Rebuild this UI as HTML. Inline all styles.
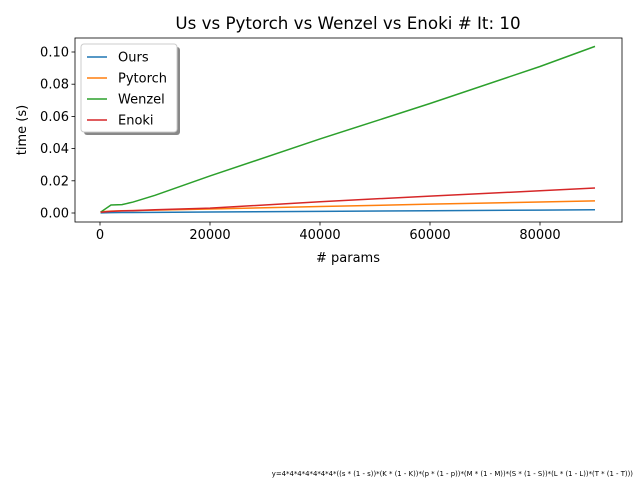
<!DOCTYPE html>
<html><head><meta charset="utf-8"><style>
body{margin:0;background:#fff;}
svg{display:block;font-family:"DejaVu Sans","Liberation Sans",sans-serif;}
</style></head><body>
<svg id="chart" width="640" height="480" viewBox="0 0 640 480">
<rect width="640" height="480" fill="#fff"/>
<text x="348" y="29" font-size="16.7" text-anchor="middle">Us vs Pytorch vs Wenzel vs Enoki # It: 10</text>
<g id="plot"></g>
<text x="348" y="262" font-size="13" text-anchor="middle"># params</text>
<text transform="translate(26,130) rotate(-90)" font-size="13" text-anchor="middle">time (s)</text>
<text x="633" y="476" font-size="6.9" text-anchor="end">y=4*4*4*4*4*4*4*((s * (1 - s))*(K * (1 - K))*(p * (1 - p))*(M * (1 - M))*(S * (1 - S))*(L * (1 - L))*(T * (1 - T)))</text>
</svg>
<script>
const xs=[100,2000,4000,6000,10000,20000,40000,60000,80000,90000];
const ours=[0.0001,0.0002,0.0003,0.0003,0.0004,0.0006,0.001,0.0014,0.0018,0.002];
const pytorch=[0.0008,0.0012,0.0014,0.0015,0.0018,0.0025,0.004,0.0055,0.0068,0.0075];
const wenzel=[0.0005,0.005,0.0052,0.0068,0.011,0.023,0.046,0.068,0.091,0.1035];
const enoki=[0.0005,0.001,0.0013,0.0015,0.002,0.003,0.007,0.0105,0.0138,0.0155];
const xTicks=[0,20000,40000,60000,80000];
const yTicks=[0,0.02,0.04,0.06,0.08,0.10];
const yTickLabels=["0.00","0.02","0.04","0.06","0.08","0.10"];
const seriesNames=["Ours","Pytorch","Wenzel","Enoki"];
const seriesColors=["#1f77b4","#ff7f0e","#2ca02c","#d62728"];

const L=75,R=622,T=38,B=222;
const sx=v=>100+v*0.0055;
const sy=v=>213-v*1610;
const ns="http://www.w3.org/2000/svg";
const g=document.getElementById('plot');
function mk(t,a){const e=document.createElementNS(ns,t);for(const k in a)e.setAttribute(k,a[k]);g.appendChild(e);return e;}
[ours,pytorch,wenzel,enoki].forEach((s,i)=>{
 const p=mk('polyline',{points:s.map((v,j)=>sx(xs[j])+','+sy(v)).join(' '),fill:'none',stroke:seriesColors[i],'stroke-width':1.5});
 
 
});
const fr=mk('rect',{x:L,y:T,width:R-L,height:B-T,fill:'none',stroke:'#000','stroke-width':0.8});


xTicks.forEach(v=>{
 mk('line',{x1:sx(v),x2:sx(v),y1:B,y2:B+3.5,stroke:'#000','stroke-width':0.8});
 const t=mk('text',{x:sx(v),y:B+17,'font-size':13,'text-anchor':'middle'});t.textContent=String(v);
 
 
});
yTicks.forEach((v,i)=>{
 mk('line',{x1:L-3.5,x2:L,y1:sy(v),y2:sy(v),stroke:'#000','stroke-width':0.8});
 const t=mk('text',{x:L-6,y:sy(v)+4.5,'font-size':13,'text-anchor':'end'});t.textContent=yTickLabels[i];
 
 
});
const lg=document.createElementNS(ns,'g');


g.appendChild(lg);
function lmk(t,a){const e=document.createElementNS(ns,t);for(const k in a)e.setAttribute(k,a[k]);lg.appendChild(e);return e;}
lmk('rect',{x:84,y:47,width:96,height:88,rx:3,fill:'#888'});
lmk('rect',{x:81,y:44,width:96,height:88,rx:3,fill:'#fff',stroke:'#ccc','stroke-width':1});
seriesNames.forEach((n,i)=>{
 const y=57+i*21;
 lmk('line',{x1:87,x2:107,y1:y,y2:y,stroke:seriesColors[i],'stroke-width':1.5});
 const t=lmk('text',{x:118,y:y+4.5,'font-size':13});t.textContent=n;
 
 
});
</script>
</body></html>
